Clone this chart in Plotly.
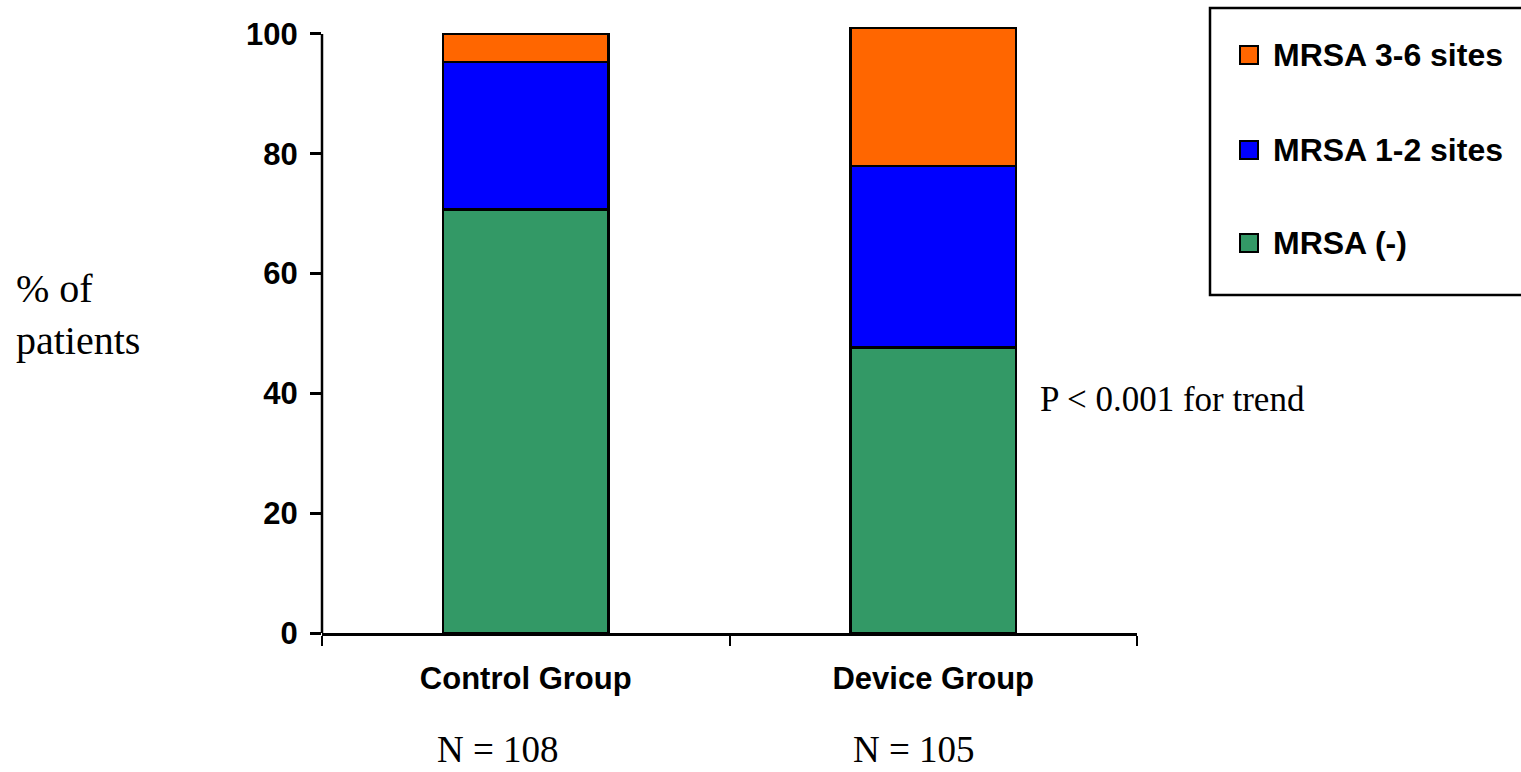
import plotly.graph_objects as go

# Share of patients (%) by MRSA colonisation status
groups = ["Control Group", "Device Group"]
group_n = ["N = 108", "N = 105"]
mrsa_neg = [70.7, 47.7]
mrsa_1_2 = [24.6, 30.3]
mrsa_3_6 = [4.7, 23.0]
y_ticks = [0, 20, 40, 60, 80, 100]

series = [
    ("MRSA (-)", mrsa_neg, "#339966"),
    ("MRSA 1-2 sites", mrsa_1_2, "#0000FF"),
    ("MRSA 3-6 sites", mrsa_3_6, "#FF6600"),
]

W, H = 1521, 772
M_L, M_R, M_T, M_B = 322, 384, 22, 139
PLOT_W = W - M_L - M_R
PLOT_H = H - M_T - M_B


def px_x(px):
    return (px - M_L) / PLOT_W


def px_y(py):
    return (H - M_B - py) / PLOT_H


SANS = "Liberation Sans, Arial, sans-serif"
SERIF = "Liberation Serif, Times New Roman, serif"

fig = go.Figure()
for name, vals, color in series:
    fig.add_trace(go.Bar(
        x=groups, y=vals, name=name, width=0.405,
        marker=dict(color=color, line=dict(color="black", width=2.5)),
        showlegend=False,
    ))

fig.update_layout(
    barmode="stack",
    width=W, height=H,
    margin=dict(l=M_L, r=M_R, t=M_T, b=M_B),
    paper_bgcolor="white", plot_bgcolor="white",
    font=dict(family=SANS, color="black"),
)

fig.update_yaxes(
    range=[0, 102], tickvals=y_ticks,
    ticktext=["<b>%d</b>" % v for v in y_ticks],
    showgrid=False, zeroline=False, showline=False,
    ticks="outside", ticklen=11, tickwidth=2.5, tickcolor="black",
    tickfont=dict(family=SANS, size=31, color="black"),
    ticklabelstandoff=6,
)
fig.update_xaxes(
    range=[-0.5, 1.5], showgrid=False, zeroline=False,
    showline=True, linecolor="black", linewidth=2.5,
    ticks="outside", tickson="boundaries", ticklen=10, tickwidth=2,
    tickcolor="black",
    tickvals=groups, ticktext=["<b>%s</b>" % g for g in groups],
    tickfont=dict(family=SANS, size=31, color="black"),
    ticklabelstandoff=16,
)

# vertical axis line only spans 0-100
fig.add_shape(type="line", xref="paper", yref="y", x0=0, x1=0, y0=0, y1=100,
              line=dict(color="black", width=2.5))

# y title
fig.add_annotation(text="% of<br>patients", xref="paper", yref="paper",
                   x=px_x(14), y=px_y(314), xanchor="left", yanchor="middle",
                   align="left", showarrow=False,
                   font=dict(family=SERIF, size=40, color="black"))

# group sizes under the category labels
for g, n, shift in zip(groups, group_n, [-28, -19]):
    fig.add_annotation(text=n, x=g, xref="x", yref="paper", y=px_y(771),
                       xshift=shift, yanchor="bottom", showarrow=False,
                       borderpad=0,
                       font=dict(family=SERIF, size=37, color="black"))

fig.add_annotation(text="P < 0.001 for trend", xref="paper", yref="paper",
                   x=px_x(1038), y=px_y(399), xanchor="left", yanchor="middle",
                   showarrow=False, font=dict(family=SERIF, size=35, color="black"))

# legend box drawn from the series list (top entry = top of stack)
fig.add_shape(type="rect", xref="paper", yref="paper",
              x0=px_x(1210), x1=px_x(1540), y0=px_y(295), y1=px_y(8),
              line=dict(color="black", width=2.5), fillcolor="white")
item_y = [243, 150, 55]
for (name, vals, color), cy in zip(series, item_y):
    fig.add_shape(type="rect", xref="paper", yref="paper",
                  x0=px_x(1240), x1=px_x(1258), y0=px_y(cy + 9), y1=px_y(cy - 9),
                  line=dict(color="black", width=2), fillcolor=color)
    fig.add_annotation(text="<b>%s</b>" % name, xref="paper", yref="paper",
                       x=px_x(1271), y=px_y(cy), xanchor="left", yanchor="middle",
                       showarrow=False,
                       font=dict(family=SANS, size=32, color="black"))

fig.write_html("out.html")
